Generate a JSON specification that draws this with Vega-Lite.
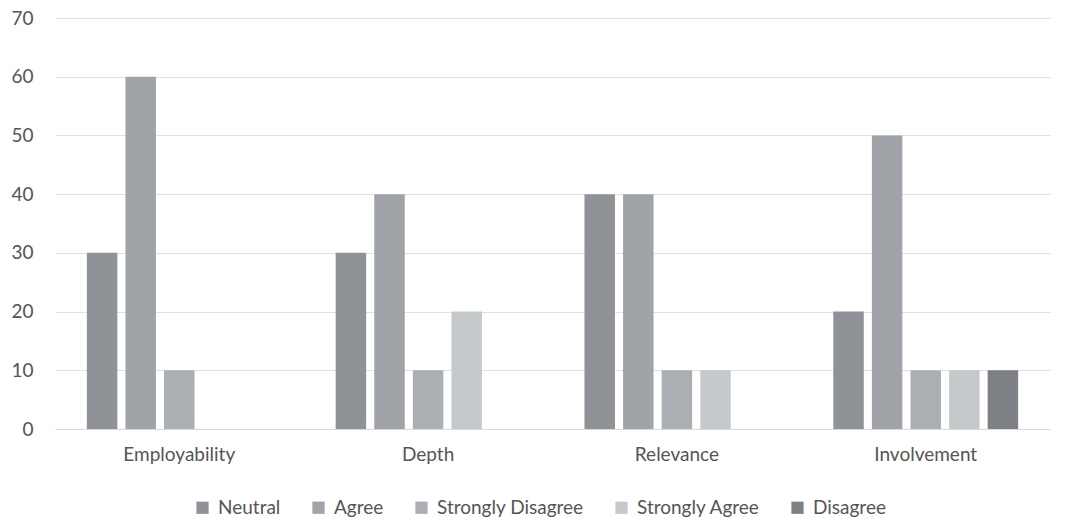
{
  "$schema": "https://vega.github.io/schema/vega-lite/v6.json",
  "width": 995,
  "height": 411,
  "autosize": "none",
  "padding": {"left": 55, "top": 18, "right": 18, "bottom": 91},
  "background": "white",
  "data": {
    "values": [
      {"category": "Employability", "response": "Neutral", "value": 30},
      {"category": "Employability", "response": "Agree", "value": 60},
      {"category": "Employability", "response": "Strongly Disagree", "value": 10},
      {"category": "Employability", "response": "Strongly Agree", "value": 0},
      {"category": "Employability", "response": "Disagree", "value": 0},
      {"category": "Depth", "response": "Neutral", "value": 30},
      {"category": "Depth", "response": "Agree", "value": 40},
      {"category": "Depth", "response": "Strongly Disagree", "value": 10},
      {"category": "Depth", "response": "Strongly Agree", "value": 20},
      {"category": "Depth", "response": "Disagree", "value": 0},
      {"category": "Relevance", "response": "Neutral", "value": 40},
      {"category": "Relevance", "response": "Agree", "value": 40},
      {"category": "Relevance", "response": "Strongly Disagree", "value": 10},
      {"category": "Relevance", "response": "Strongly Agree", "value": 10},
      {"category": "Relevance", "response": "Disagree", "value": 0},
      {"category": "Involvement", "response": "Neutral", "value": 20},
      {"category": "Involvement", "response": "Agree", "value": 50},
      {"category": "Involvement", "response": "Strongly Disagree", "value": 10},
      {"category": "Involvement", "response": "Strongly Agree", "value": 10},
      {"category": "Involvement", "response": "Disagree", "value": 10}
    ]
  },
  "mark": {"type": "bar"},
  "encoding": {
    "x": {
      "field": "category",
      "type": "nominal",
      "sort": ["Employability", "Depth", "Relevance", "Involvement"],
      "scale": {"paddingInner": 0.257, "paddingOuter": 0.128},
      "axis": {
        "title": null,
        "labelAngle": 0,
        "labelFont": "Lato",
        "labelFontSize": 19,
        "labelColor": "#555555",
        "labelPadding": 16,
        "ticks": false,
        "domain": true,
        "domainColor": "#d9d9d9"
      }
    },
    "xOffset": {
      "field": "response",
      "type": "nominal",
      "sort": ["Neutral", "Agree", "Strongly Disagree", "Strongly Agree", "Disagree"],
      "scale": {"paddingInner": 0.21, "paddingOuter": 0}
    },
    "y": {
      "field": "value",
      "type": "quantitative",
      "scale": {"domain": [0, 70], "nice": false},
      "axis": {
        "title": null,
        "values": [0, 10, 20, 30, 40, 50, 60, 70],
        "labelOverlap": false,
        "labelFont": "Lato",
        "labelFontSize": 19,
        "labelColor": "#555555",
        "labelPadding": 22,
        "ticks": false,
        "domain": false,
        "gridColor": "#e0e0e0",
        "gridWidth": 1
      }
    },
    "color": {
      "field": "response",
      "type": "nominal",
      "sort": ["Neutral", "Agree", "Strongly Disagree", "Strongly Agree", "Disagree"],
      "scale": {
        "domain": ["Neutral", "Agree", "Strongly Disagree", "Strongly Agree", "Disagree"],
        "range": ["#8f9398", "#a0a4a8", "#abafb3", "#c6c9cc", "#7d8085"]
      },
      "legend": {
        "title": null,
        "orient": "none",
        "legendX": 138,
        "legendY": 480,
        "direction": "horizontal",
        "symbolType": "square",
        "symbolSize": 150,
        "symbolStrokeWidth": 0,
        "labelFont": "Lato",
        "labelFontSize": 19,
        "labelColor": "#555555",
        "labelOffset": 6,
        "columnPadding": 28
      }
    }
  },
  "config": {"view": {"stroke": null}}
}
